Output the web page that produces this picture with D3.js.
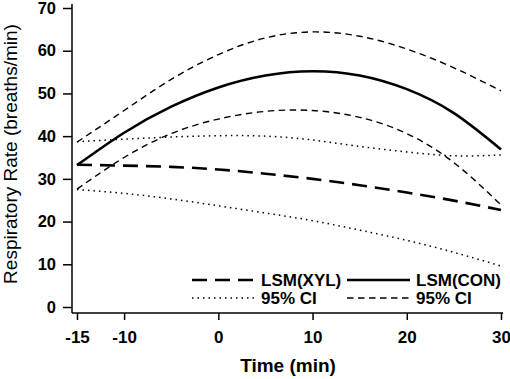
<!DOCTYPE html>
<html>
<head>
<meta charset="utf-8">
<script src="https://cdn.jsdelivr.net/npm/d3@7"></script>
<style>
  body { margin: 0; background: #fff; }
  text { font-family: "Liberation Sans", Arial, sans-serif; fill: #000; }
</style>
</head>
<body>
<svg id="chart" width="510" height="379"></svg>
<script>
// thoi gian (phut)
const time = [-15, -10, -5, 0, 5, 10, 15, 20, 25, 30];

// cac duong doc tu hinh
const lsmXYL = [33.3, 33.1, 32.8, 32.2, 31.2, 30.0, 28.5, 26.8, 24.9, 22.7];
const lsmCON = [33.2, 40.8, 46.9, 51.4, 54.2, 55.2, 54.2, 51.0, 45.4, 36.9];
const ciXYLup = [38.7, 39.3, 39.8, 40.1, 40.0, 39.1, 37.6, 36.3, 35.4, 35.6];
const ciXYLlo = [27.5, 26.6, 25.3, 23.7, 22.0, 20.2, 18.0, 15.6, 12.8, 9.6];
const ciCONup = [38.6, 46.0, 53.3, 59.1, 63.0, 64.4, 63.4, 60.4, 56.0, 50.6];
const ciCONlo = [27.6, 35.0, 40.6, 44.0, 45.8, 46.0, 44.4, 40.6, 33.8, 23.9];

const xTicks = [-15, -10, 0, 10, 20, 30];
const yTicks = [0, 10, 20, 30, 40, 50, 60, 70];

const legendLabels = ["LSM(XYL)", "LSM(CON)", "95% CI", "95% CI"];

const svg = d3.select("#chart");

const x = d3.scaleLinear().domain([-15, 30]).range([77, 501]);
const y = d3.scaleLinear().domain([0, 70]).range([307, 8]);

const axisX = 72, axisY = 313;

// kieu net
const styles = {
  xyl:   {w: 2.6, dash: "15,8"},
  con:   {w: 2.6, dash: null},
  ciXYL: {w: 1.5, dash: "1.5,4"},
  ciCON: {w: 1.4, dash: "6.5,4.5"}
};

const series = [
  {vals: ciXYLup, s: styles.ciXYL},
  {vals: ciXYLlo, s: styles.ciXYL},
  {vals: ciCONup, s: styles.ciCON},
  {vals: ciCONlo, s: styles.ciCON},
  {vals: lsmXYL, s: styles.xyl},
  {vals: lsmCON, s: styles.con}
];

const line = d3.line()
  .x((d, i) => x(time[i]))
  .y(d => y(d))
  .curve(d3.curveNatural);

svg.selectAll("path.series")
  .data(series)
  .enter().append("path")
    .attr("class", "series")
    .attr("d", d => line(d.vals))
    .attr("fill", "none")
    .attr("stroke", "#000")
    .attr("stroke-width", d => d.s.w)
    .attr("stroke-dasharray", d => d.s.dash);

// Truc Y
const gy = svg.append("g")
  .attr("transform", `translate(${axisX},0)`)
  .call(d3.axisLeft(y).tickValues(yTicks).tickSize(9).tickPadding(7).tickFormat(d => String(d)));
gy.select(".domain").remove();
gy.selectAll("line").attr("stroke-width", 1.5);
gy.selectAll("text").style("font-size", "16.5px").style("font-weight", "bold");
svg.append("line")
  .attr("x1", axisX).attr("x2", axisX)
  .attr("y1", y(70) - 4).attr("y2", axisY)
  .attr("stroke", "#000").attr("stroke-width", 1.5);

// Truc X
const gx = svg.append("g")
  .attr("transform", `translate(0,${axisY})`)
  .call(d3.axisBottom(x).tickValues(xTicks).tickSize(7).tickPadding(11).tickFormat(d => String(d)));
gx.select(".domain").remove();
gx.selectAll("line").attr("stroke-width", 1.5);
gx.selectAll("text").style("font-size", "17px").style("font-weight", "bold");
svg.append("line")
  .attr("x1", axisX).attr("x2", x(30) + 2)
  .attr("y1", axisY).attr("y2", axisY)
  .attr("stroke", "#000").attr("stroke-width", 1.5);

// Nhan truc
svg.append("text")
  .attr("x", 288).attr("y", 372)
  .attr("text-anchor", "middle")
  .style("font-size", "19px").style("font-weight", "bold")
  .text("Time (min)");

svg.append("text")
  .attr("transform", "translate(17,154) rotate(-90)")
  .attr("text-anchor", "middle")
  .style("font-size", "19px")
  .text("Respiratory Rate (breaths/min)");

// Chu thich
const legend = [
  {label: legendLabels[0], s: styles.xyl,   col: 0, row: 0},
  {label: legendLabels[1], s: styles.con,   col: 1, row: 0},
  {label: legendLabels[2], s: styles.ciXYL, col: 0, row: 1},
  {label: legendLabels[3], s: styles.ciCON, col: 1, row: 1}
];
const lg = svg.selectAll("g.leg")
  .data(legend)
  .enter().append("g")
    .attr("class", "leg")
    .attr("transform", d => `translate(${192 + d.col * 155},${280 + d.row * 18})`);
lg.append("line")
  .attr("x1", 0).attr("x2", 63)
  .attr("stroke", "#000")
  .attr("stroke-width", d => d.s.w)
  .attr("stroke-dasharray", d => d.s.dash);
lg.append("text")
  .attr("x", 69).attr("y", 6)
  .style("font-size", "17px").style("font-weight", "bold")
  .text(d => d.label);
</script>
</body>
</html>
